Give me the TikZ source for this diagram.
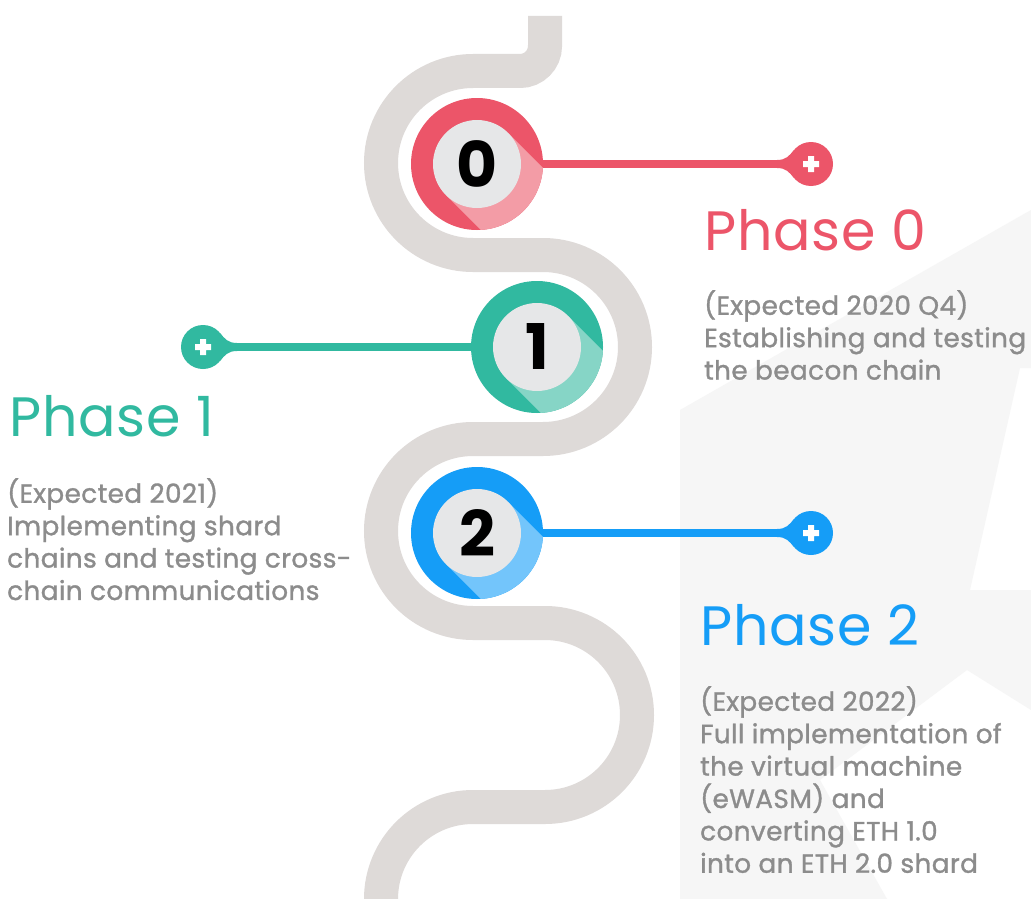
\documentclass[tikz,border=0pt]{standalone}
\usepackage{fontspec}
\setmainfont{Poppins}
\newfontfamily\bodyfont{Poppins}[FakeBold=1.2, LetterSpace=1.5]
\newfontfamily\titlefont{Poppins}[LetterSpace=1.5]
\usetikzlibrary{calc}
\definecolor{rd}{HTML}{EC5569}
\definecolor{rdl}{HTML}{F39CA6}
\definecolor{tl}{HTML}{31B9A0}
\definecolor{tll}{HTML}{86D5C6}
\definecolor{bl}{HTML}{159DF7}
\definecolor{bll}{HTML}{73C5FB}
\definecolor{road}{HTML}{DEDAD8}
\definecolor{innerc}{HTML}{E6E7E8}
\definecolor{bodyc}{HTML}{8C8C8C}
\definecolor{bgpoly}{HTML}{F6F6F6}
\newcommand{\phasecircle}[4]{%
  \begin{scope}
    \clip (#1.center) circle (66);
    \fill[#3, shift={(#1.center)}, rotate=-45] (0,-44) rectangle (130,44);
  \end{scope}
  \fill[innerc] (#1.center) circle (44);
  \node[digit] (d#4) at (#1.center) {#4};
}
\newcommand{\pinhead}[3]{%
  \begin{scope}[shift={(#1.center)}, xscale=#3]
    \fill[#2] (-34,4) .. controls (-25,4) and (-22,8) .. (-17,14) -- (-17,-14) .. controls (-22,-8) and (-25,-4) .. (-34,-4) -- cycle;
    \fill[white] (-8,-3) rectangle (8,3) (-3,-8) rectangle (3,8);
  \end{scope}
}
\begin{document}
\begin{tikzpicture}[x=1pt,y=1pt,
  ring/.style={circle, inner sep=0pt, minimum size=132pt, fill=#1},
  pinc/.style={circle, inner sep=0pt, minimum size=44pt, fill=#1},
  conn/.style={line width=8pt, #1},
  digit/.style={font=\fontsize{63}{63}\selectfont\bfseries, text=black, inner sep=0pt},
  title/.style={font=\titlefont\fontsize{55.5}{55.5}\selectfont, text=#1, inner sep=0pt, anchor=base west},
  bodytext/.style={font=\bodyfont\fontsize{26.3}{32.4}\selectfont, text=bodyc, inner sep=0pt, align=left, anchor=north west}]
\useasboundingbox (0,0) rectangle (1031,-899);
\fill[white] (0,0) rectangle (1031,-899);
% faint background polygon
\fill[bgpoly] (680,-410) -- (1031,-210) -- (1031,-368) -- (1020,-368) -- (970,-590) -- (1031,-590) -- (1031,-710) -- (967,-670) -- (820,-780) -- (887,-899) -- (680,-899) -- cycle;
% road
\draw[road, line width=34pt]
  (545,-16) -- (545,-46) arc[start angle=0, end angle=-90, radius=25]
  -- (473,-71) arc[start angle=90, end angle=270, radius=92]
  -- (543,-255) arc[start angle=90, end angle=-90, radius=92]
  -- (473,-439) arc[start angle=90, end angle=270, radius=92]
  -- (545,-623) arc[start angle=90, end angle=-90, radius=92]
  -- (473,-807) arc[start angle=90, end angle=180, radius=92]
  -- (381,-905);
% circles and pins
\node[ring=rd] (c0) at (477,-164) {};
\node[ring=tl] (c1) at (537,-347) {};
\node[ring=bl] (c2) at (477,-533) {};
\node[pinc=rd] (p0) at (811,-164) {};
\node[pinc=tl] (p1) at (203,-347) {};
\node[pinc=bl] (p2) at (811,-533) {};
\draw[conn=rd] (c0) -- (p0);
\draw[conn=tl] (c1) -- (p1);
\draw[conn=bl] (c2) -- (p2);
\phasecircle{c0}{rd}{rdl}{0}
\phasecircle{c1}{tl}{tll}{1}
\phasecircle{c2}{bl}{bll}{2}
\pinhead{p0}{rd}{1}
\pinhead{p1}{tl}{-1}
\pinhead{p2}{bl}{1}
% texts
\node[title=rd] (t0) at (704,-250) {Phase 0};
\node[bodytext] (b0) at (704,-290) {(Expected 2020 Q4)\\Establishing and testing\\the beacon chain};
\node[title=tl] (t1) at (9,-436) {Phase 1};
\node[bodytext] (b1) at (7,-478) {(Expected 2021)\\Implementing shard\\chains and testing cross-\\chain communications};
\node[title=bl] (t2) at (700,-645) {Phase 2};
\node[bodytext] (b2) at (700,-686) {(Expected 2022)\\Full implementation of\\the virtual machine\\(eWASM) and\\converting ETH 1.0\\into an ETH 2.0 shard};
\end{tikzpicture}
\end{document}
